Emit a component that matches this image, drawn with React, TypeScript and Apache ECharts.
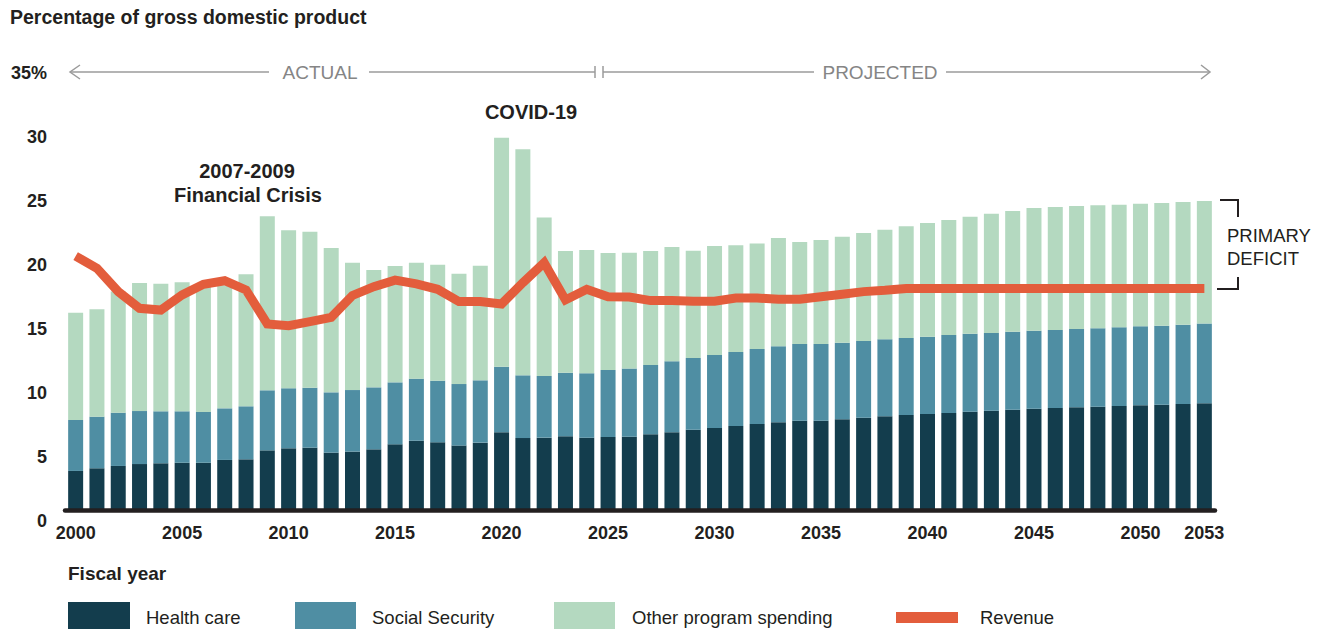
import React, { useEffect, useRef } from "react";
import * as echarts from "echarts";

const years = [
  "2000", "2001", "2002", "2003", "2004", "2005", "2006", "2007", "2008", "2009",
  "2010", "2011", "2012", "2013", "2014", "2015", "2016", "2017", "2018", "2019",
  "2020", "2021", "2022", "2023", "2024", "2025", "2026", "2027", "2028", "2029",
  "2030", "2031", "2032", "2033", "2034", "2035", "2036", "2037", "2038", "2039",
  "2040", "2041", "2042", "2043", "2044", "2045", "2046", "2047", "2048", "2049",
  "2050", "2051", "2052", "2053",
];

const healthCare = [
  3.09, 3.3, 3.48, 3.63, 3.69, 3.73, 3.73, 3.95, 4.0, 4.7,
  4.86, 4.91, 4.52, 4.6, 4.78, 5.17, 5.45, 5.33, 5.07, 5.3,
  6.11, 5.66, 5.69, 5.8, 5.69, 5.74, 5.77, 5.95, 6.11, 6.31,
  6.45, 6.6, 6.76, 6.89, 7.02, 7.02, 7.12, 7.25, 7.36, 7.46,
  7.54, 7.62, 7.72, 7.8, 7.88, 7.95, 8.01, 8.06, 8.11, 8.16,
  8.22, 8.27, 8.32, 8.38,
];

const socialSecurity = [
  3.98, 4.03, 4.16, 4.14, 4.06, 4.02, 3.97, 4.03, 4.14, 4.69,
  4.69, 4.68, 4.71, 4.81, 4.84, 4.84, 4.85, 4.81, 4.81, 4.87,
  5.13, 4.9, 4.82, 4.97, 5.03, 5.24, 5.32, 5.42, 5.55, 5.6,
  5.7, 5.78, 5.86, 5.94, 5.99, 5.99, 5.99, 5.99, 6.01, 6.02,
  6.04, 6.09, 6.08, 6.07, 6.09, 6.1, 6.09, 6.12, 6.12, 6.15,
  6.17, 6.17, 6.2, 6.22,
];

const otherSpending = [
  8.38, 8.39, 9.46, 10.0, 9.97, 10.08, 9.9, 9.62, 10.31, 13.59,
  12.34, 12.19, 11.28, 9.95, 9.17, 9.09, 9.06, 9.06, 8.62, 8.96,
  17.89, 17.66, 12.39, 9.5, 9.63, 9.14, 9.05, 8.9, 8.93, 8.39,
  8.51, 8.34, 8.23, 8.46, 7.97, 8.12, 8.28, 8.44, 8.57, 8.72,
  8.88, 8.99, 9.14, 9.32, 9.43, 9.58, 9.61, 9.61, 9.61, 9.58,
  9.58, 9.58, 9.58, 9.58,
];

const revenue = [
  19.88, 18.92, 17.1, 15.8, 15.66, 16.84, 17.67, 17.95, 17.23, 14.57,
  14.44, 14.75, 15.09, 16.8, 17.49, 18.0, 17.7, 17.28, 16.32, 16.32,
  16.13, 17.8, 19.36, 16.45, 17.28, 16.7, 16.68, 16.4, 16.4, 16.35,
  16.35, 16.6, 16.6, 16.5, 16.5, 16.7, 16.9, 17.1, 17.2, 17.35,
  17.35, 17.35, 17.35, 17.35, 17.35, 17.35, 17.35, 17.35, 17.35, 17.35,
  17.35, 17.35, 17.35, 17.35,
];

const seriesNames = ["Health care", "Social Security", "Other program spending", "Revenue"];
const shownYears = ["2000", "2005", "2010", "2015", "2020", "2025", "2030", "2035", "2040", "2045", "2050", "2053"];

const FONT = "'Liberation Sans', Arial, Helvetica, sans-serif";
const DARK = "#231f20";
const C_HC = "#133d4d";
const C_SS = "#4f8ea3";
const C_OTHER = "#b4d9c0";
const C_REV = "#e35d3c";
const GRAY_LINE = "#9b9b9b";
const GRAY_TEXT = "#858585";

export default function App() {
  const ref = useRef<HTMLDivElement>(null);

  useEffect(() => {
    if (!ref.current) return;
    const chart = echarts.init(ref.current, null, { renderer: "svg" });

    const txt = (text: string, x: number, y: number, size: number, weight: string, color: string, align = "left") => ({
      type: "text",
      x,
      y,
      silent: true,
      style: {
        text,
        fill: color,
        font: `${weight} ${size}px ${FONT}`,
        textAlign: align,
        textVerticalAlign: "middle",
      },
    });
    const ln = (x1: number, y1: number, x2: number, y2: number, color: string, w: number) => ({
      type: "line",
      silent: true,
      shape: { x1, y1, x2, y2 },
      style: { stroke: color, lineWidth: w },
    });
    const pl = (points: number[][], color: string, w: number) => ({
      type: "polyline",
      silent: true,
      shape: { points },
      style: { stroke: color, lineWidth: w, fill: null },
    });

    const graphics: any[] = [
      txt("Percentage of gross domestic product", 10, 17, 19.5, "bold", DARK),
      // actual / projected arrows
      ln(70, 72, 269, 72, GRAY_LINE, 1.5),
      pl([[80, 65], [70, 72], [80, 79]], GRAY_LINE, 1.5),
      txt("ACTUAL", 320, 72, 19, "normal", GRAY_TEXT, "center"),
      ln(369, 72, 595, 72, GRAY_LINE, 1.5),
      ln(595, 66, 595, 78, GRAY_LINE, 1.5),
      ln(603, 66, 603, 78, GRAY_LINE, 1.5),
      ln(603, 72, 814, 72, GRAY_LINE, 1.5),
      txt("PROJECTED", 880, 72, 19, "normal", GRAY_TEXT, "center"),
      ln(946, 72, 1210, 72, GRAY_LINE, 1.5),
      pl([[1201, 65], [1210, 72], [1201, 79]], GRAY_LINE, 1.5),
      // annotations
      txt("2007-2009", 247, 171, 20, "bold", DARK, "center"),
      txt("Financial Crisis", 248, 195, 20, "bold", DARK, "center"),
      txt("COVID-19", 531, 112, 20, "bold", DARK, "center"),
      // primary deficit bracket
      pl([[1220, 200], [1238, 200], [1238, 217]], DARK, 2),
      pl([[1238, 277], [1238, 289], [1217, 289]], DARK, 2),
      txt("PRIMARY", 1227, 235, 18.5, "normal", DARK),
      txt("DEFICIT", 1227, 258, 18.5, "normal", DARK),
      // axis title
      txt("Fiscal year", 68, 573, 19, "bold", DARK),
      // legend
      { type: "rect", silent: true, shape: { x: 68, y: 602, width: 62, height: 27 }, style: { fill: C_HC } },
      txt(seriesNames[0], 146, 617, 18.5, "normal", DARK),
      { type: "rect", silent: true, shape: { x: 295, y: 602, width: 61, height: 27 }, style: { fill: C_SS } },
      txt(seriesNames[1], 372, 617, 18.5, "normal", DARK),
      { type: "rect", silent: true, shape: { x: 554, y: 602, width: 61, height: 27 }, style: { fill: C_OTHER } },
      txt(seriesNames[2], 632, 617, 18.5, "normal", DARK),
      { type: "rect", silent: true, shape: { x: 896, y: 612, width: 62, height: 11 }, style: { fill: C_REV } },
      txt(seriesNames[3], 980, 617, 18.5, "normal", DARK),
    ];

    const option: any = {
      animation: false,
      textStyle: { fontFamily: FONT },
      grid: [
        { left: 65, right: 112, top: 62.5, height: 448 },
        { left: 65, right: 112, top: 72.7, height: 448 },
      ],
      xAxis: [
        {
          type: "category",
          gridIndex: 0,
          data: years,
          boundaryGap: true,
          z: 10,
          axisLine: { show: true, lineStyle: { color: DARK, width: 4.5 } },
          axisTick: { show: false },
          axisLabel: {
            interval: (_i: number, v: string) => shownYears.indexOf(v) >= 0,
            fontSize: 18,
            fontWeight: "bold",
            color: DARK,
            margin: 13,
            fontFamily: FONT,
          },
          splitLine: { show: false },
        },
        {
          type: "category",
          gridIndex: 1,
          data: years,
          show: false,
        },
      ],
      yAxis: [
        {
          type: "value",
          gridIndex: 0,
          min: 0,
          max: 35,
          interval: 5,
          axisLine: { show: false },
          axisTick: { show: false },
          axisLabel: { show: false },
          splitLine: { show: false },
        },
        {
          type: "value",
          gridIndex: 1,
          min: 0,
          max: 35,
          interval: 5,
          axisLine: { show: false },
          axisTick: { show: false },
          splitLine: { show: false },
          axisLabel: {
            fontSize: 18,
            fontWeight: "bold",
            color: DARK,
            margin: 18,
            fontFamily: FONT,
            formatter: (v: number) => (v === 35 ? "35%" : String(v)),
          },
        },
      ],
      series: [
        {
          name: seriesNames[0],
          type: "bar",
          stack: "spend",
          data: healthCare,
          barWidth: 15,
          itemStyle: { color: C_HC },
        },
        {
          name: seriesNames[1],
          type: "bar",
          stack: "spend",
          data: socialSecurity,
          barWidth: 15,
          itemStyle: { color: C_SS },
        },
        {
          name: seriesNames[2],
          type: "bar",
          stack: "spend",
          data: otherSpending,
          barWidth: 15,
          itemStyle: { color: C_OTHER },
        },
        {
          name: seriesNames[3],
          type: "line",
          data: revenue,
          symbol: "none",
          z: 5,
          lineStyle: { color: C_REV, width: 9, join: "miter", cap: "butt" },
        },
      ],
      graphic: graphics,
    };

    chart.setOption(option);
    return () => chart.dispose();
  }, []);

  return (
    <div
      ref={ref}
      style={{ position: "absolute", left: 0, top: 0, width: 1327, height: 629, background: "#ffffff" }}
    />
  );
}
